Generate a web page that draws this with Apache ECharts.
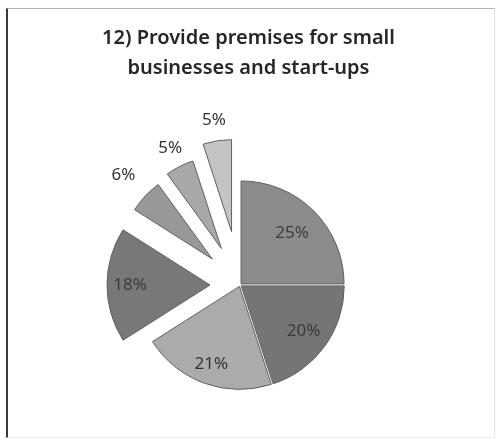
<!DOCTYPE html>
<html>
<head>
<meta charset="utf-8">
<script src="https://cdn.jsdelivr.net/npm/echarts@6/dist/echarts.min.js"></script>
<style>
  html, body { margin: 0; padding: 0; background: #fff; }
  #chart { position: absolute; left: 0; top: 0; width: 497px; height: 445px; }
  #frame {
    position: absolute; left: 6px; top: 8px; width: 486px; height: 428px;
    border-left: 2px solid #3a3a3a; border-top: 1px solid #b5b5b5;
    border-right: 1px solid #e4e4e4; border-bottom: 1px solid #eeeeee;
    pointer-events: none;
  }
</style>
</head>
<body>
<div id="chart"></div>
<div id="frame"></div>
<script>
// Chart text and values
const titleLines = ['12) Provide premises for small', 'businesses and start-ups'];
const shares = [25, 20, 21, 18, 6, 5, 5];

// Styling per slice (clockwise from 12 o'clock)
const fills = ['#8b8b8b', '#757575', '#ababab', '#787878', '#989898', '#a8a8a8', '#c4c4c4'];
const pullOut = [1.5, 1.5, 1.5, 30, 38, 41, 54];      // explode distance, px
const sliceRadius = [103, 103, 103, 103, 92, 92, 92]; // px
const labelDist = [69, 74, 80, 77, 119, 110, 110];    // label centre from slice tip, px
const labelInk = ['#3e3e3e', '#3a3a3a', '#333333', '#3a3a3a', '#333333', '#333333', '#333333'];

const CENTER = [240, 285];
const FONT = '"Noto Sans", Lato, sans-serif';
const clear = 'rgba(0,0,0,0)';

const chart = echarts.init(document.getElementById('chart'), null, { renderer: 'canvas' });

const series = [];
// one pie per slice, so every slice can be exploded by its own distance
shares.forEach((v, i) => {
  const sliceStyle = { color: fills[i], borderColor: '#606060', borderWidth: 1 };
  series.push({
    type: 'pie',
    center: CENTER,
    radius: [0, sliceRadius[i]],
    startAngle: 90,
    clockwise: true,
    silent: true,
    animation: false,
    selectedMode: 'multiple',
    selectedOffset: pullOut[i],
    label: { show: false },
    labelLine: { show: false },
    emphasis: { disabled: true },
    z: 2,
    data: shares.map((s, j) => j === i
      ? { value: s, selected: true, itemStyle: sliceStyle, select: { itemStyle: sliceStyle } }
      : { value: s, itemStyle: { color: clear, borderWidth: 0 }, select: { itemStyle: { color: clear, borderWidth: 0 } } })
  });
});

// matching transparent pies that only carry the percentage labels
shares.forEach((v, i) => {
  series.push({
    type: 'pie',
    center: CENTER,
    radius: [0, labelDist[i] * 2],
    startAngle: 90,
    clockwise: true,
    silent: true,
    animation: false,
    selectedMode: 'multiple',
    selectedOffset: pullOut[i],
    labelLine: { show: false },
    emphasis: { disabled: true },
    z: 3,
    data: shares.map((s, j) => ({
      value: s,
      selected: j === i,
      itemStyle: { color: clear, borderWidth: 0 },
      select: { itemStyle: { color: clear, borderWidth: 0 } },
      label: j === i
        ? { show: true, position: 'inside', formatter: '{c}%', color: labelInk[i],
            fontFamily: FONT, fontSize: 17, textBorderWidth: 0 }
        : { show: false }
    }))
  });
});

chart.setOption({
  backgroundColor: '#ffffff',
  animation: false,
  title: {
    text: titleLines.join('\n'),
    left: 'center',
    top: 18,
    padding: [5, 5, 5, 12],
    textStyle: { fontFamily: FONT, fontWeight: 600, fontSize: 20, color: '#262626', lineHeight: 30 }
  },
  series: series
});
</script>
</body>
</html>
